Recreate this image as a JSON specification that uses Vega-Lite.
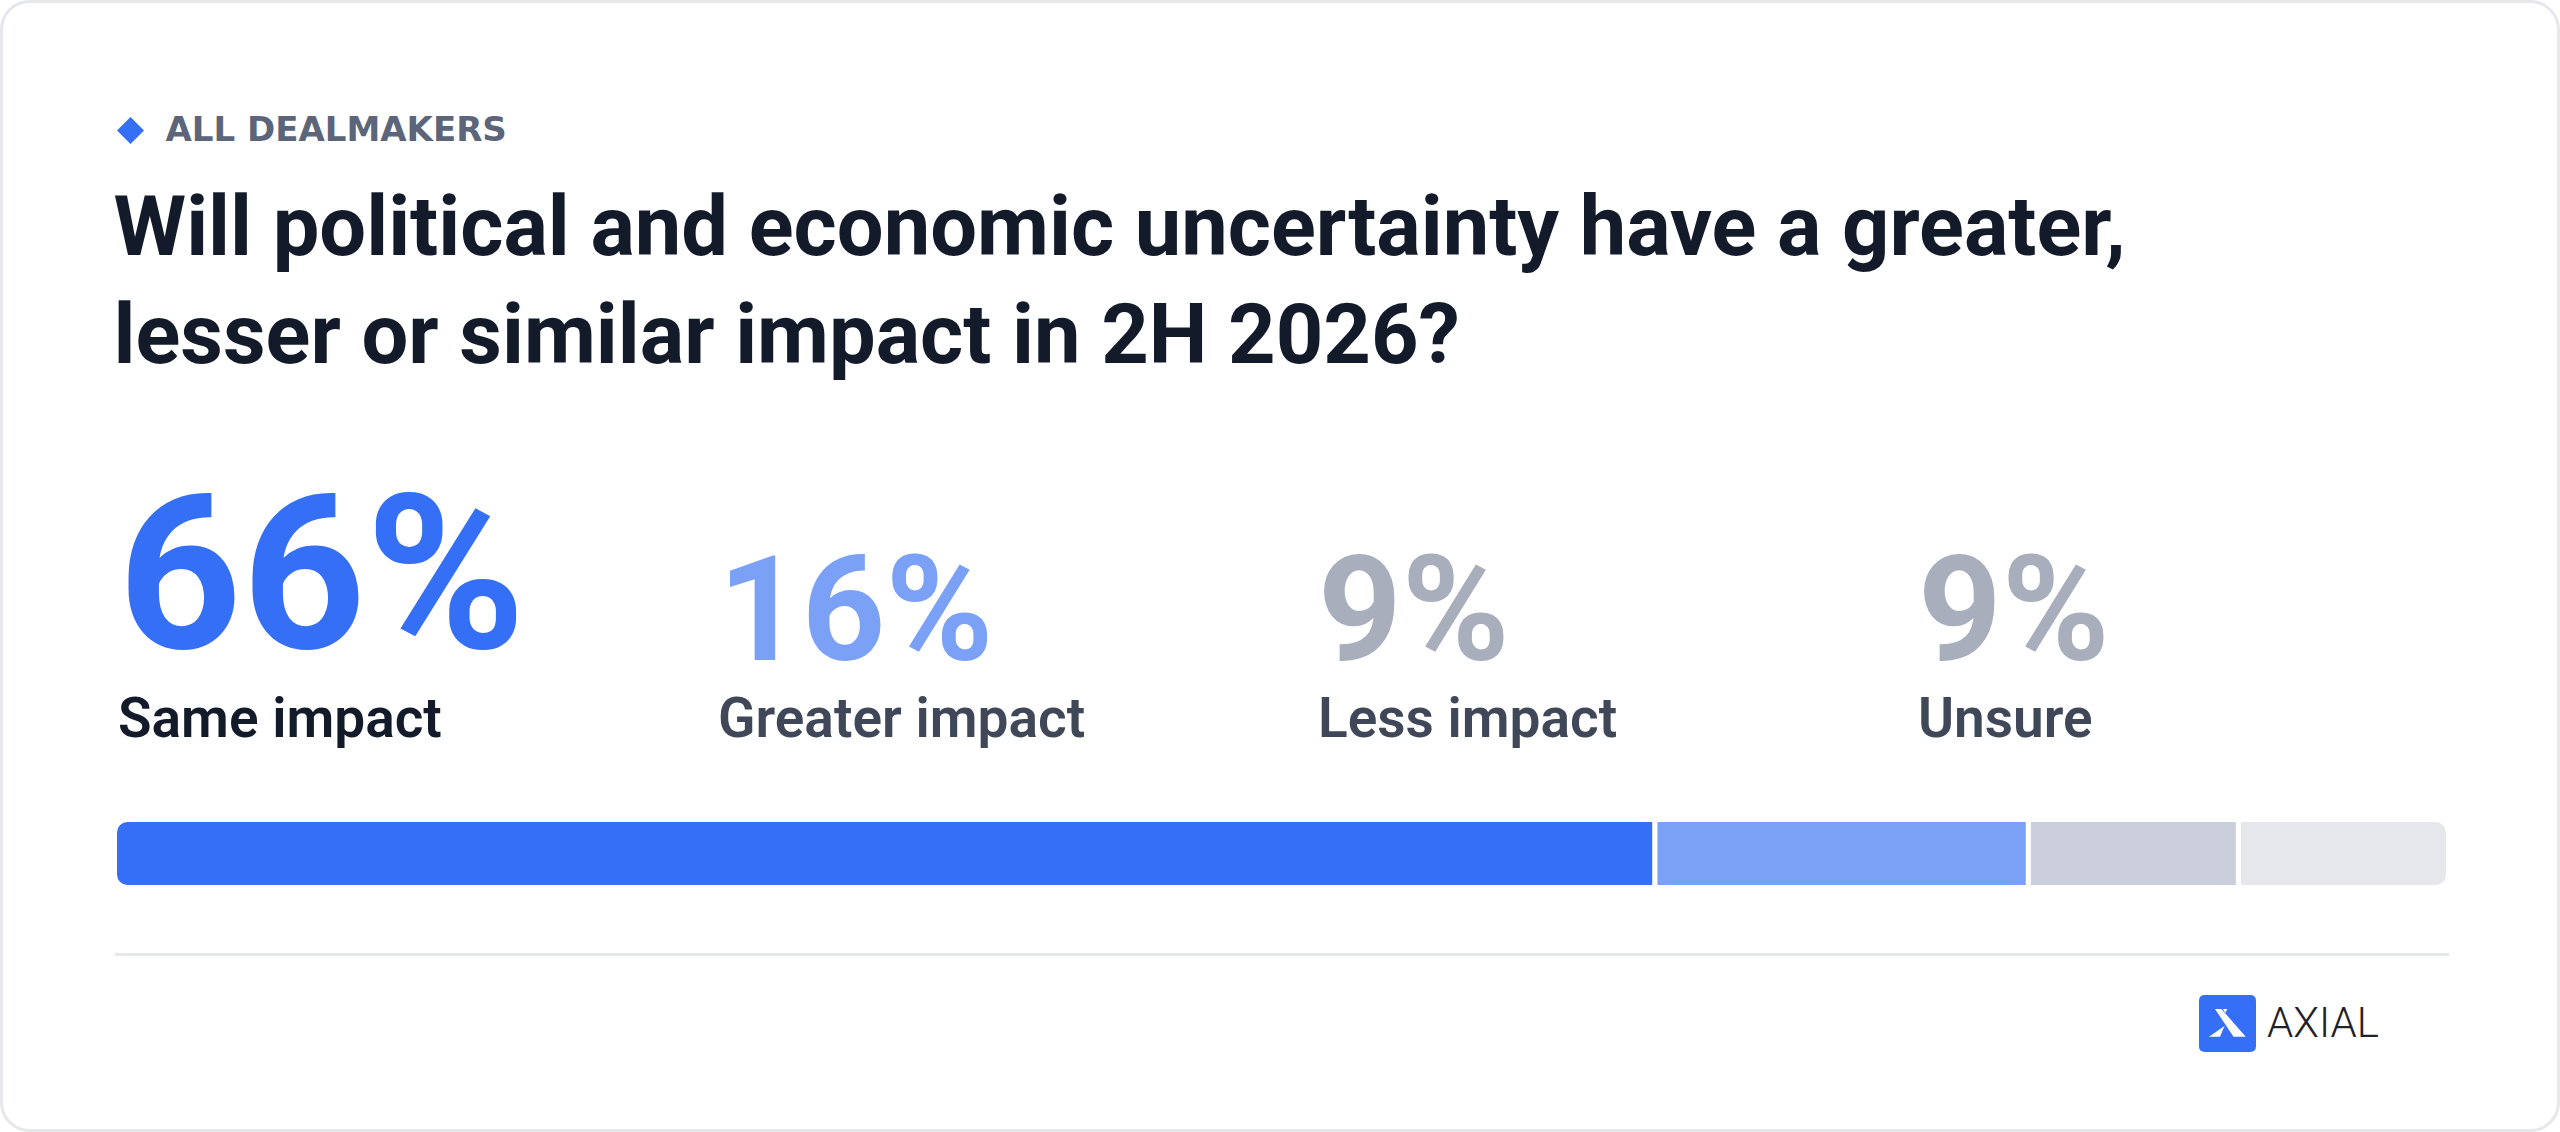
{
  "$schema": "https://vega.github.io/schema/vega-lite/v6.json",
  "description": "Impact of political and economic uncertainty in 2H 2026, all dealmakers",
  "width": 2560,
  "height": 1132,
  "autosize": {"type": "fit", "contains": "padding"},
  "padding": 1.5,
  "background": "#ffffff",
  "view": {"stroke": "#e5e7eb", "strokeWidth": 3, "cornerRadius": 28, "fill": "#ffffff"},
  "config": {"font": "Roboto"},
  "data": {
    "values": [
      {"category": "Same impact", "pct": 0.66, "rank": 1, "group": "ALL DEALMAKERS", "source": "AXIAL"},
      {"category": "Greater impact", "pct": 0.16, "rank": 2, "group": "ALL DEALMAKERS", "source": "AXIAL"},
      {"category": "Less impact", "pct": 0.09, "rank": 3, "group": "ALL DEALMAKERS", "source": "AXIAL"},
      {"category": "Unsure", "pct": 0.09, "rank": 4, "group": "ALL DEALMAKERS", "source": "AXIAL"}
    ]
  },
  "resolve": {"scale": {"x": "independent", "color": "independent", "opacity": "independent"}},
  "layer": [
    {
      "transform": [
        {"stack": "pct", "groupby": ["group"], "sort": [{"field": "rank", "order": "ascending"}], "as": ["x0", "x1"]}
      ],
      "encoding": {
        "x": {
          "field": "x0",
          "type": "quantitative",
          "scale": {"domain": [0, 1], "range": [113, 2447], "nice": false},
          "axis": {
            "orient": "bottom",
            "offset": -176.5,
            "domain": true,
            "domainColor": "#e5e7eb",
            "domainWidth": 3,
            "ticks": false,
            "labels": false,
            "grid": false,
            "title": null
          }
        },
        "x2": {"field": "x1"},
        "y": {
          "field": "group",
          "type": "nominal",
          "scale": {"type": "band", "range": [818, 886], "paddingInner": 0, "paddingOuter": 0},
          "axis": null
        },
        "color": {
          "field": "category",
          "type": "nominal",
          "scale": {
            "domain": ["Same impact", "Greater impact", "Less impact", "Unsure"],
            "range": ["#346ff5", "#7ba1f7", "#cbcfdb", "#e5e7eb"]
          },
          "legend": null
        }
      },
      "layer": [
        {
          "transform": [{"filter": "datum.rank === 1"}],
          "mark": {"type": "bar", "stroke": "#ffffff", "strokeWidth": 5, "cornerRadiusTopLeft": 13, "cornerRadiusBottomLeft": 13},
          "encoding": {
            "opacity": {
              "field": "group",
              "type": "ordinal",
              "scale": {"range": [1, 1]},
              "legend": {
                "orient": "top-left",
                "offset": 111.5,
                "padding": 0,
                "title": ["Will political and economic uncertainty have a greater,", "lesser or similar impact in 2H 2026?"],
                "titleOrient": "bottom",
                "titleAnchor": "start",
                "titleAlign": "left",
                "titleBaseline": "top",
                "titleFont": "Roboto",
                "titleFontSize": 83,
                "titleFontWeight": 700,
                "titleColor": "#131a2a",
                "titleLineHeight": 108,
                "titlePadding": 41,
                "titleLimit": 3000,
                "symbolType": "diamond",
                "symbolSize": 729,
                "symbolFillColor": "#346ff5",
                "symbolStrokeWidth": 0,
                "symbolOpacity": 1,
                "labelFont": "DejaVu Sans",
                "labelFontSize": 34,
                "labelFontWeight": 700,
                "labelColor": "#5c6579",
                "labelOffset": 18,
                "labelLimit": 1000,
                "encode": {
                  "symbols": {"update": {"fill": {"value": "#346ff5"}, "strokeWidth": {"value": 0}}},
                  "title": {"update": {"dx": {"value": 5}}}
                }
              }
            }
          }
        },
        {
          "transform": [{"filter": "datum.rank === 2 || datum.rank === 3"}],
          "mark": {"type": "bar", "stroke": "#ffffff", "strokeWidth": 5}
        },
        {
          "transform": [{"filter": "datum.rank === 4"}],
          "mark": {"type": "bar", "stroke": "#ffffff", "strokeWidth": 5, "cornerRadiusTopRight": 13, "cornerRadiusBottomRight": 13}
        }
      ]
    },
    {
      "transform": [{"filter": "datum.rank === 1"}],
      "mark": {
        "type": "text",
        "align": "left",
        "baseline": "alphabetic",
        "font": "Roboto",
        "fontWeight": 700,
        "fontSize": 216,
        "dy": -171.5,
        "color": "#346ff5"
      },
      "encoding": {
        "x": {
          "field": "category",
          "type": "nominal",
          "scale": {"type": "point", "domain": ["Same impact", "Greater impact", "Less impact", "Unsure"], "range": [116.5, 1916.5], "padding": 0},
          "axis": null
        },
        "y": {"field": "group", "type": "nominal", "bandPosition": 0, "axis": null},
        "text": {"field": "pct", "type": "quantitative", "format": ".0%"},
        "opacity": {
          "field": "source",
          "type": "ordinal",
          "scale": {"range": [1, 1]},
          "legend": {
            "orient": "none",
            "legendX": 2197.5,
            "legendY": 993.5,
            "padding": 0,
            "title": null,
            "symbolType": "M-0.79,-1H0.79Q1,-1 1,-0.79V0.79Q1,1 0.79,1H-0.79Q-1,1 -1,0.79V-0.79Q-1,-1 -0.79,-1ZM-0.439,-0.509L0.211,0.463L0.639,0.463L-0.211,-0.509ZM-0.649,0.463L-0.263,0.463L-0.105,0.088ZM-0.158,-0.509L-0.074,-0.368L-0.007,-0.509Z",
            "symbolSize": 3249,
            "symbolFillColor": "#346ff5",
            "symbolStrokeWidth": 0,
            "symbolOpacity": 1,
            "labelFont": "Roboto",
            "labelFontSize": 42,
            "labelFontWeight": 300,
            "labelColor": "#1f2329",
            "labelOffset": 11,
            "encode": {
              "symbols": {"update": {"fill": {"value": "#346ff5"}, "strokeWidth": {"value": 0}}},
              "labels": {"update": {"dy": {"value": 2}}}
            }
          }
        }
      }
    },
    {
      "transform": [{"filter": "datum.rank > 1"}],
      "mark": {
        "type": "text",
        "align": "left",
        "baseline": "alphabetic",
        "font": "Roboto",
        "fontWeight": 700,
        "fontSize": 146,
        "dy": -159.5
      },
      "encoding": {
        "x": {
          "field": "category",
          "type": "nominal",
          "scale": {"type": "point", "domain": ["Same impact", "Greater impact", "Less impact", "Unsure"], "range": [116.5, 1916.5], "padding": 0},
          "axis": null
        },
        "y": {"field": "group", "type": "nominal", "bandPosition": 0, "axis": null},
        "text": {"field": "pct", "type": "quantitative", "format": ".0%"},
        "color": {
          "field": "category",
          "type": "nominal",
          "scale": {
            "domain": ["Same impact", "Greater impact", "Less impact", "Unsure"],
            "range": ["#346ff5", "#7ba1f7", "#a9aebd", "#a9aebd"]
          },
          "legend": null
        }
      }
    },
    {
      "mark": {
        "type": "text",
        "align": "left",
        "baseline": "alphabetic",
        "font": "Roboto",
        "fontWeight": 600,
        "fontSize": 55,
        "dy": -82.5
      },
      "encoding": {
        "x": {
          "field": "category",
          "type": "nominal",
          "scale": {"type": "point", "domain": ["Same impact", "Greater impact", "Less impact", "Unsure"], "range": [116.5, 1916.5], "padding": 0},
          "axis": null
        },
        "y": {"field": "group", "type": "nominal", "bandPosition": 0, "axis": null},
        "text": {"field": "category", "type": "nominal"},
        "color": {
          "condition": {"test": "datum.rank === 1", "value": "#131a2a"},
          "value": "#3f4759"
        }
      }
    }
  ]
}
